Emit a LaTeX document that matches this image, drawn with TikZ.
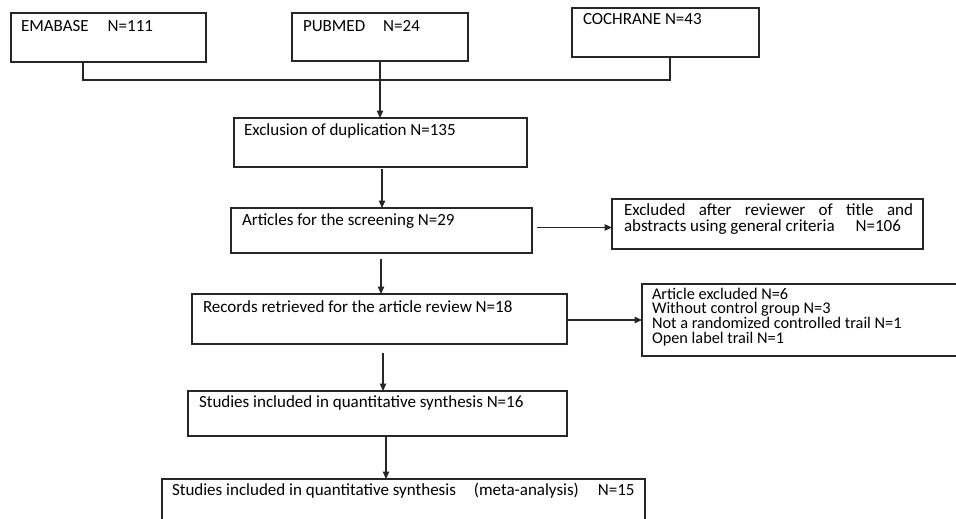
\documentclass[tikz,border=0pt]{standalone}
\usepackage{fontspec}
\setmainfont{Carlito}
\usetikzlibrary{calc,arrows.meta}
\begin{document}
\begin{tikzpicture}[x=1pt,y=-1pt,
  box/.style={draw=black!85, line width=1.2pt, inner sep=0pt, outer sep=0pt, anchor=north west},
  txt/.style={inner sep=0pt, outer sep=0pt, anchor=base west, text=black, font=\fontsize{17}{14.5}\selectfont},
  link/.style={draw=black!85, line width=1.2pt},
  arr/.style={link, -{Triangle[length=7.5pt,width=6.5pt]}}]
\useasboundingbox (0,0) rectangle (956,519);
\clip (0,0) rectangle (956,519);
% boxes
\node[box, minimum width=195, minimum height=49] (emb) at (11,13) {};
\node[box, minimum width=176, minimum height=48] (pub) at (292,13) {};
\node[box, minimum width=187, minimum height=49] (coc) at (572,8) {};
\node[box, minimum width=293, minimum height=49] (exc) at (234,118) {};
\node[box, minimum width=301, minimum height=45] (art) at (231,208) {};
\node[box, minimum width=311, minimum height=50] (exa) at (612,199) {};
\node[box, minimum width=375, minimum height=50] (rec) at (192,294) {};
\node[box, minimum width=340, minimum height=72] (aex) at (642,284) {};
\node[box, minimum width=379, minimum height=45] (stu) at (188,391) {};
\node[box, minimum width=483, minimum height=70] (fin) at (162,479) {};
% texts
\node[txt] (embt) at (21,32) {EMABASE\hspace{19pt}N=111};
\node[txt] (pubt) at (303,32) {PUBMED\hspace{18pt}N=24};
\node[txt] (coct) at (583,25) {COCHRANE N=43};
\node[txt] (exct) at (244,135) {Exclusion of duplication N=135};
\node[txt] (artt) at (242,225) {Articles for the screening N=29};
\node[txt, font=\fontsize{17}{16}\selectfont] (exat) at (624,215) {\vtop{\hbox{\makebox[289pt][s]{Excluded after reviewer of title and}}\hbox{abstracts using general criteria\hspace{21pt}N=106}}};
\node[txt] (rect) at (203,312) {Records retrieved for the article review N=18};
\node[txt, font=\fontsize{16.3}{14.7}\selectfont] (aext) at (652,299) {\vtop{\hbox{Article excluded N=6}\hbox{Without control group N=3}\hbox{Not a randomized controlled trail N=1}\hbox{Open label trail N=1}}};
\node[txt] (stut) at (199,407) {Studies included in quantitative synthesis N=16};
\node[txt] (fint) at (172,495) {Studies included in quantitative synthesis\hspace{18pt}(meta-analysis)\hspace{19pt}N=15};
% connectors
\coordinate (jy) at (0,80);
\coordinate (e1) at ($(emb.south)+(-25.5,0)$);
\coordinate (c1) at ($(coc.south)+(4.5,0)$);
\coordinate (p1) at ($(pub.south)+(0,0)$);
\draw[link] (e1) -- (e1 |- jy) -- (c1 |- jy) -- (c1);
\draw[link] (p1) -- (p1 |- jy);
\draw[arr] (p1 |- jy) -- (p1 |- exc.north);
\coordinate (x1) at ($(exc.south)+(1.5,2)$);
\draw[arr] (x1) -- (x1 |- art.north);
\coordinate (a1) at ($(art.east)+(5,-3)$);
\draw[arr] (a1) -- (a1 -| exa.west);
\coordinate (a2) at ($(art.south)+(-0.5,6)$);
\draw[arr] (a2) -- (a2 |- rec.north);
\coordinate (r1) at ($(rec.east)+(0,1)$);
\draw[arr] (r1) -- (r1 -| aex.west);
\coordinate (r2) at ($(rec.south)+(3.5,9)$);
\draw[arr] (r2) -- (r2 |- stu.north);
\coordinate (s1) at ($(stu.south)+(8.5,0)$);
\draw[arr] (s1) -- (s1 |- fin.north);
\end{tikzpicture}
\end{document}
